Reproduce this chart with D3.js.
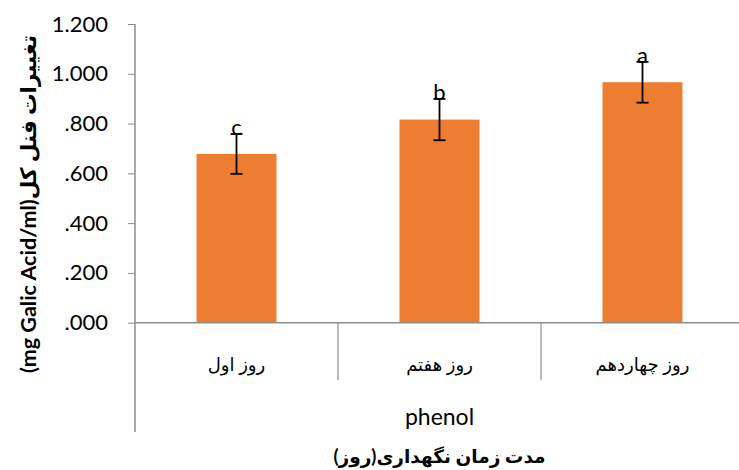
<!DOCTYPE html>
<html>
<head>
<meta charset="utf-8">
<script src="https://cdn.jsdelivr.net/npm/d3@7/dist/d3.min.js"></script>
<style>
  html, body { margin: 0; padding: 0; background: #fff; }
  svg { display: block; }
  text { font-family: Lato, "DejaVu Sans", sans-serif; fill: #000; }
</style>
</head>
<body>
<svg id="chart" width="739" height="470"></svg>
<script>
// Total phenol over storage time
const categories = ["روز اول", "روز هفتم", "روز چهاردهم"];
const values = [0.678, 0.816, 0.966];
const errors = [0.080, 0.083, 0.082];
const letters = ["c", "b", "a"];
const yTicks = [0, 0.2, 0.4, 0.6, 0.8, 1.0, 1.2];
const yTickLabels = [".000", ".200", ".400", ".600", ".800", "1.000", "1.200"];
const groupLabel = "phenol";
const xTitle = "مدت زمان نگهداری(روز)";
const yTitle = "(mg Galic Acid/ml)تغییرات فنل کل";

const svg = d3.select("#chart");
const plotLeft = 135, plotRight = 744, plotTop = 24, plotBase = 322.7;
const axisColor = "#8c8c8c";

const x = d3.scaleBand().domain(categories).range([plotLeft, plotRight])
  .paddingInner(0.606).paddingOuter(0.303);
const y = d3.scaleLinear().domain([0, 1.2]).range([plotBase, plotTop]);

// bars
svg.append("g").selectAll("rect").data(categories).join("rect")
  .attr("x", d => x(d))
  .attr("y", (d, i) => y(values[i]))
  .attr("width", x.bandwidth())
  .attr("height", (d, i) => y(0) - y(values[i]))
  .attr("fill", "#ED7D31");

// y axis
const yAxis = d3.axisLeft(y).tickValues(yTicks)
  .tickFormat((d, i) => yTickLabels[i]).tickSize(7).tickPadding(20);
const gy = svg.append("g").attr("transform", `translate(${plotLeft},0)`).call(yAxis);
gy.select(".domain").remove();
gy.selectAll(".tick line").attr("stroke", axisColor);
gy.selectAll(".tick text").attr("font-size", 22).attr("font-family", "Lato, sans-serif").attr("fill", "#000");
svg.append("line").attr("x1", plotLeft).attr("x2", plotLeft).attr("y1", plotTop).attr("y2", 432)
  .attr("stroke", axisColor).attr("stroke-width", 1.5);

// x axis baseline and category dividers
svg.append("line").attr("x1", plotLeft).attr("x2", 739).attr("y1", plotBase).attr("y2", plotBase)
  .attr("stroke", axisColor).attr("stroke-width", 1.5);
const step = x.step();
svg.append("g").selectAll("line").data(categories.slice(1)).join("line")
  .attr("x1", d => x(d) - x.paddingInner() * step / 2)
  .attr("x2", d => x(d) - x.paddingInner() * step / 2)
  .attr("y1", plotBase).attr("y2", 380)
  .attr("stroke", axisColor).attr("stroke-width", 1.2);

// category labels
svg.append("g").selectAll("text").data(categories).join("text")
  .attr("x", d => x(d) + x.bandwidth() / 2)
  .attr("y", 371)
  .attr("text-anchor", "middle")
  .attr("font-family", "'DejaVu Sans', sans-serif")
  .attr("font-size", 18)
  .text(d => d);

// group label
svg.append("text").attr("x", (plotLeft + plotRight) / 2).attr("y", 425)
  .attr("text-anchor", "middle").attr("font-size", 23).text(groupLabel);

// x title
svg.append("text").attr("x", (plotLeft + plotRight) / 2).attr("y", 463)
  .attr("text-anchor", "middle").attr("font-weight", "bold")
  .attr("font-family", "'DejaVu Sans', sans-serif").attr("font-size", 18.5).text(xTitle);

// y title
svg.append("text").attr("transform", "translate(36,204) rotate(-90)")
  .attr("text-anchor", "middle").attr("font-weight", "bold")
  .attr("font-size", 21.5).text(yTitle);

// error bars
const eb = svg.append("g").attr("stroke", "#000").attr("stroke-width", 1.8);
categories.forEach((c, i) => {
  const cx = x(c) + x.bandwidth() / 2;
  const y1 = y(values[i] + errors[i]), y0 = y(values[i] - errors[i]);
  eb.append("line").attr("x1", cx).attr("x2", cx).attr("y1", y1).attr("y2", y0);
  eb.append("line").attr("x1", cx - 6).attr("x2", cx + 6).attr("y1", y1).attr("y2", y1);
  eb.append("line").attr("x1", cx - 6).attr("x2", cx + 6).attr("y1", y0).attr("y2", y0);
});

// significance letters
svg.append("g").selectAll("text").data(categories).join("text")
  .attr("x", d => x(d) + x.bandwidth() / 2)
  .attr("y", (d, i) => y(values[i] + errors[i]) + 1)
  .attr("text-anchor", "middle")
  .attr("font-family", "'DejaVu Sans Mono', monospace")
  .attr("font-size", 22)
  .text((d, i) => letters[i]);
</script>
</body>
</html>
